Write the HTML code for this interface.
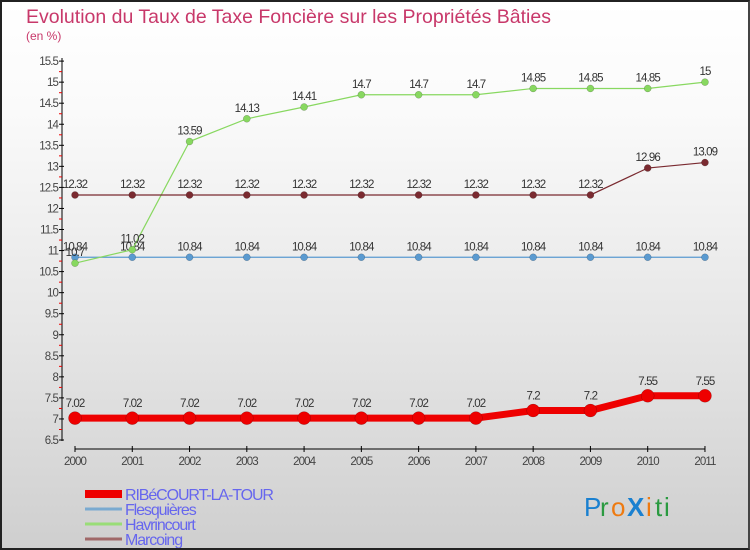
<!DOCTYPE html>
<html><head><meta charset="utf-8"><style>
body{margin:0}
#c{position:relative;width:746px;height:546px;border:2px solid #222;border-right:2px solid #444;background:linear-gradient(#fff,#fafafa 20%,#e6e6e6 60%,#cfcfcf);font-family:"Liberation Sans",sans-serif;overflow:hidden}
svg{position:absolute;left:-2px;top:-2px}
</style></head><body>
<div id="c">
<svg id="s" width="750" height="550">
<text x="26" y="23" font-size="19.5" fill="#c8386a">Evolution du Taux de Taxe Foncière sur les Propriétés Bâties</text>
<text x="26" y="40" font-size="12" fill="#c8386a">(en %)</text>
<g id="g"></g>
</svg>
</div>
<script>
const years=[2000,2001,2002,2003,2004,2005,2006,2007,2008,2009,2010,2011];
const yTicks=[6.5,7,7.5,8,8.5,9,9.5,10,10.5,11,11.5,12,12.5,13,13.5,14,14.5,15,15.5];
const ribecourt=[7.02,7.02,7.02,7.02,7.02,7.02,7.02,7.02,7.2,7.2,7.55,7.55];
const flesquieres=[10.84,10.84,10.84,10.84,10.84,10.84,10.84,10.84,10.84,10.84,10.84,10.84];
const havrincourt=[10.7,11.02,13.59,14.13,14.41,14.7,14.7,14.7,14.85,14.85,14.85,15];
const marcoing=[12.32,12.32,12.32,12.32,12.32,12.32,12.32,12.32,12.32,12.32,12.96,13.09];
const seriesNames=["RIBéCOURT-LA-TOUR","Flesquières","Havrincourt","Marcoing"];
const NS="http://www.w3.org/2000/svg";
const g=document.getElementById('g');
const X=i=>75+i*57.27;
const Y=v=>440-(v-6.5)*42.1;
function el(t,a,txt){const e=document.createElementNS(NS,t);for(const k in a)e.setAttribute(k,a[k]);if(txt!==undefined)e.textContent=txt;g.appendChild(e);return e;}
let ax=el('line',{x1:62,y1:58,x2:62,y2:441,stroke:'#000','stroke-width':1});


yTicks.forEach((v,k)=>{
 const y=Y(v);
 const t=el('line',{x1:59,y1:y,x2:64,y2:y,stroke:'#000'});
 
 
 const l=el('text',{x:58,y:y+4,'font-size':11.5,fill:'#444','text-anchor':'end','letter-spacing':'-0.9'},String(v));
 
 
 if(k<yTicks.length-1){
 const m=el('line',{x1:59,y1:y-10.5,x2:62,y2:y-10.5,stroke:'#e00'});
 
 }
});
let xa=el('line',{x1:X(0),y1:449,x2:X(11),y2:449,stroke:'#000'});


years.forEach((yr,i)=>{
 const t=el('line',{x1:X(i),y1:446,x2:X(i),y2:452,stroke:'#000'});
 
 
 const l=el('text',{x:X(i),y:465,'font-size':11.5,fill:'#444','text-anchor':'middle','letter-spacing':'-0.9'},String(yr));
 
 
});
function series(data,color,w,r,name,labelDy){
 const p=el('polyline',{points:data.map((v,i)=>X(i)+','+Y(v)).join(' '),fill:'none',stroke:color,'stroke-width':w});
 
 
 data.forEach((v,i)=>{
  const c=el('circle',{cx:X(i),cy:Y(v),r:r,fill:color,stroke:'rgba(0,0,0,0.3)','stroke-width':0.5});
  
  
  const t=el('text',{x:X(i),y:Y(v)-labelDy,'font-size':11.5,fill:'#333','text-anchor':'middle','letter-spacing':'-0.9'},String(v));
  
  
 });
}
series(flesquieres,'#5a9ad0',1.2,3.5,'flesquieres',7);
series(havrincourt,'#88d860',1.2,3.5,'havrincourt',7);
series(marcoing,'#7a2a30',1.2,3.5,'marcoing',7);
series(ribecourt,'#ee0000',7,6.5,'ribecourt',11);
const lc=['#ee0000','#7aaad0','#99dd77','#a06868'];
const lw=[8,3,3,3];
seriesNames.forEach((n,i)=>{
 const y=494+i*15;
 const l=el('line',{x1:85,y1:y,x2:122,y2:y,stroke:lc[i],'stroke-width':lw[i]});
 
 
 const t=el('text',{x:125,y:y+6,'font-size':16,fill:'#6666ee','letter-spacing':'-1.1'},n);
 
 
});
const logo=[['P','#1a80d0'],['r','#2a9a40'],['o','#ee7a10'],['X','#1a80d0'],['i','#ee7a10'],['t','#2a9a40'],['i','#2a9a40']];
let lx=584;
logo.forEach(([ch,c])=>{
 const t=el('text',{x:lx,y:516,'font-size':26,fill:c,'font-weight':ch==='X'?'bold':'normal'},ch);
 
 
 lx+= ch==='P'?16:ch==='X'?19:ch==='o'?16:ch==='r'?11:9;
});
</script>
</body></html>
